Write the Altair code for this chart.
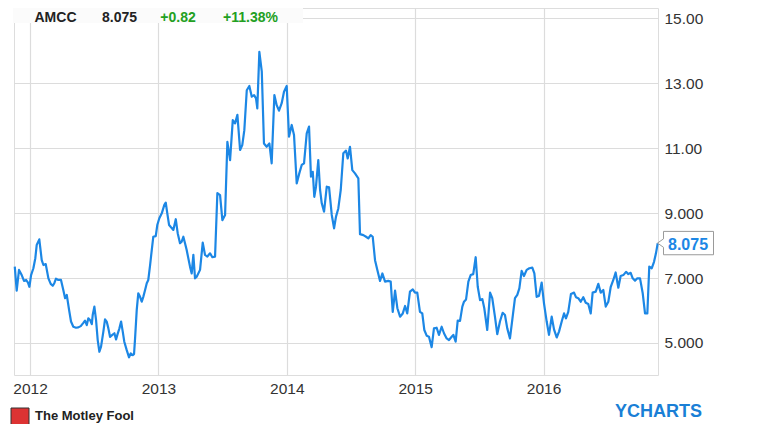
import altair as alt
import pandas as pd

# ---- data (fractional year, closing price) ----
years = [
    2011.881, 2011.896, 2011.914, 2011.935, 2011.953, 2011.969, 2011.984, 2011.995,
    2012.008, 2012.026, 2012.041, 2012.052, 2012.072, 2012.091, 2012.104, 2012.122,
    2012.143, 2012.161, 2012.177, 2012.189, 2012.202, 2012.220, 2012.241, 2012.259,
    2012.273, 2012.286, 2012.304, 2012.319, 2012.337, 2012.358, 2012.376, 2012.395,
    2012.415, 2012.428, 2012.442, 2012.454, 2012.467, 2012.481, 2012.488, 2012.501,
    2012.514, 2012.527, 2012.540, 2012.553, 2012.571, 2012.584, 2012.597, 2012.610,
    2012.623, 2012.641, 2012.657, 2012.670, 2012.680, 2012.696, 2012.709, 2012.722,
    2012.734, 2012.753, 2012.771, 2012.784, 2012.800, 2012.810, 2012.818, 2012.831,
    2012.843, 2012.857, 2012.870, 2012.882, 2012.896, 2012.909, 2012.921, 2012.935,
    2012.948, 2012.960, 2012.979, 2012.991, 2013.007, 2013.026, 2013.046, 2013.057,
    2013.069, 2013.083, 2013.098, 2013.116, 2013.135, 2013.150, 2013.168, 2013.181,
    2013.194, 2013.207, 2013.220,
    2013.246, 2013.259, 2013.272, 2013.285, 2013.298, 2013.324, 2013.345, 2013.363,
    2013.381, 2013.402, 2013.420, 2013.441, 2013.459, 2013.480, 2013.498, 2013.519,
    2013.537, 2013.558, 2013.579, 2013.597, 2013.615, 2013.636, 2013.653, 2013.669,
    2013.688, 2013.708, 2013.727, 2013.745, 2013.760, 2013.770, 2013.786, 2013.805,
    2013.822, 2013.843, 2013.864, 2013.882, 2013.903, 2013.921, 2013.939, 2013.960,
    2013.978, 2013.999, 2014.017, 2014.038, 2014.056, 2014.077, 2014.097, 2014.116,
    2014.134, 2014.155, 2014.173, 2014.188, 2014.202, 2014.214, 2014.227, 2014.245,
    2014.259, 2014.272, 2014.290, 2014.311, 2014.329, 2014.350, 2014.368, 2014.383,
    2014.401, 2014.420, 2014.440, 2014.461, 2014.474, 2014.492, 2014.510, 2014.531,
    2014.557, 2014.570, 2014.596, 2014.617, 2014.635, 2014.653,
    2014.669, 2014.687, 2014.705, 2014.726, 2014.744, 2014.765, 2014.790, 2014.809,
    2014.825, 2014.843, 2014.861, 2014.882, 2014.903, 2014.921, 2014.938, 2014.959,
    2014.981, 2014.998, 2015.016, 2015.037, 2015.055, 2015.071, 2015.090, 2015.107,
    2015.128, 2015.146, 2015.167, 2015.185, 2015.206, 2015.224, 2015.245, 2015.263,
    2015.284, 2015.297, 2015.315, 2015.331, 2015.349, 2015.367, 2015.380, 2015.396,
    2015.414, 2015.432, 2015.452, 2015.471, 2015.487, 2015.505, 2015.523, 2015.538,
    2015.561, 2015.583, 2015.600, 2015.621, 2015.639, 2015.660, 2015.681, 2015.699,
    2015.717, 2015.738, 2015.756, 2015.777, 2015.795, 2015.811, 2015.829, 2015.847,
    2015.868, 2015.889, 2015.912, 2015.928, 2015.946, 2015.964, 2015.985, 2016.003,
    2016.024, 2016.042, 2016.063, 2016.081, 2016.102, 2016.120, 2016.141, 2016.159,
    2016.174, 2016.192, 2016.213, 2016.237, 2016.252, 2016.270, 2016.289, 2016.309,
    2016.328, 2016.348, 2016.367, 2016.382, 2016.406, 2016.426, 2016.445, 2016.465,
    2016.484, 2016.504, 2016.523, 2016.543, 2016.561, 2016.582,
    2016.600, 2016.621, 2016.642, 2016.660, 2016.678, 2016.694, 2016.712, 2016.730,
    2016.751, 2016.772, 2016.790, 2016.808, 2016.823, 2016.842, 2016.860, 2016.875,
    2016.889,
]

prices = [
    7.35, 6.61, 7.25, 7.09, 6.91, 6.94, 6.86, 6.73,
    7.09, 7.30, 7.61, 8.02, 8.19, 7.55, 7.40, 7.43,
    6.99, 6.82, 6.76, 6.84, 6.98, 6.94, 6.94, 6.63,
    6.38, 6.48, 6.02, 5.66, 5.50, 5.47, 5.48, 5.52,
    5.62, 5.69, 5.55, 5.76, 5.71, 5.58, 5.86, 6.12,
    5.71, 5.09, 4.73, 4.89, 5.35, 5.73, 5.66, 5.45,
    5.19, 5.25, 5.30, 5.11, 5.25, 5.45, 5.66, 5.35,
    5.04, 4.78, 4.56, 4.68, 4.63, 4.66, 5.14, 6.02,
    6.53, 6.42, 6.27, 6.42, 6.63, 6.84, 6.94, 7.40,
    7.86, 8.27, 8.29, 8.63, 8.84, 8.99, 9.25, 9.32,
    8.99, 8.63, 8.56, 8.48, 8.81, 8.38, 8.07, 8.12,
    8.27, 8.07, 7.86,
    7.35, 7.14, 7.71, 6.99, 7.04, 7.25, 8.09, 7.71,
    7.66, 7.76, 7.64, 7.66, 9.61, 9.55, 8.78, 8.94,
    11.19, 10.63, 11.86, 11.76, 12.02, 10.94, 11.09, 11.55,
    12.78, 12.91, 12.58, 12.63, 12.53, 12.22, 13.96, 13.35,
    11.14, 11.04, 11.14, 10.53, 12.63, 12.32, 12.15, 12.38,
    12.73, 12.91, 11.35, 11.71, 11.40, 9.91, 10.22, 10.48,
    10.53, 11.45, 11.66, 10.12, 10.27, 9.50, 9.81, 10.63,
    9.71, 9.30, 9.04, 9.81, 9.79, 8.94, 8.53, 8.89,
    9.14, 9.71, 10.84, 10.92, 10.68, 11.04, 10.32, 10.22,
    10.07, 8.35, 8.32, 8.27, 8.22, 8.32,
    8.27, 7.55, 7.25, 6.91, 7.14, 6.89, 6.91, 6.89,
    5.96, 6.61, 6.07, 5.81, 5.91, 6.14, 5.91, 6.58,
    6.65, 6.55, 6.55, 5.96, 5.91, 5.40, 5.22, 5.19,
    4.87, 5.45, 5.47, 5.25, 5.50, 5.30, 5.14, 5.09,
    5.19, 5.25, 5.04, 5.69, 5.68, 6.12, 6.27, 6.34,
    6.89, 7.09, 7.12, 7.64, 6.73, 6.32, 6.35, 6.07,
    5.40, 6.55, 6.38, 5.81, 5.27, 5.66, 5.93, 5.86,
    5.45, 5.14, 5.71, 6.38, 6.48, 6.68, 7.22, 7.06,
    7.25, 7.30, 7.32, 7.14, 6.42, 6.45, 6.86, 6.22,
    5.66, 5.25, 5.81, 5.42, 5.17, 5.35, 5.66, 5.91,
    5.76, 5.96, 6.51, 6.55, 6.41, 6.38, 6.27, 6.41,
    6.24, 6.20, 5.91, 6.55, 6.58, 6.82, 6.55, 6.63,
    6.12, 6.27, 6.73, 6.94, 7.17, 6.70,
    7.06, 7.09, 7.19, 7.12, 7.16, 6.99, 6.92, 6.99,
    6.99, 6.53, 5.91, 5.91, 7.35, 7.30, 7.50, 7.76,
    8.075,
]

year_ticks = [2012, 2013, 2014, 2015, 2016]
price_ticks = [5, 7, 9, 11, 13, 15]
ticker = "AMCC"
last_text = "8.075"
change_abs = "+0.82"
change_pct = "+11.38%"

assert len(years) == len(prices)
df = pd.DataFrame({"year": years, "price": prices})
one = pd.DataFrame({"k": [0]})

FONT = "Liberation Sans"
BLUE = "#1c87e5"
GREEN = "#22a022"
W, H = 644, 367

x_scale = alt.Scale(domain=[2011.875, 2016.891], nice=False, zero=False)
y_scale = alt.Scale(domain=[4.015, 15.31], nice=False, zero=False)

line = alt.Chart(df).mark_line(color=BLUE, strokeWidth=2.2, strokeJoin="round").encode(
    x=alt.X("year:Q", scale=x_scale,
            axis=alt.Axis(values=year_ticks, format="d", title=None, orient="bottom",
                          grid=True, gridColor="#dcdcdc", gridWidth=1.2,
                          domain=False, ticks=False, labelFont=FONT, labelFontSize=15.5,
                          labelColor="#333333", labelPadding=6, labelFlush=False)),
    y=alt.Y("price:Q", scale=y_scale,
            axis=alt.Axis(values=price_ticks, title=None, orient="right",
                          labelExpr="datum.value >= 10 ? format(datum.value, '.2f') : format(datum.value, '.3f')",
                          grid=True, gridColor="#dcdcdc", gridWidth=1.2,
                          domain=False, ticks=False, labelFont=FONT, labelFontSize=15.5,
                          labelColor="#333333", labelPadding=6, labelBaseline="middle")),
)

# header box and texts
header_box = alt.Chart(one).mark_rect(color="#fbfbfb").encode(
    x=alt.value(-1), x2=alt.value(289), y=alt.value(0), y2=alt.value(15)
)

def htext(txt, xpos, color):
    return alt.Chart(one).mark_text(
        text=txt, font=FONT, fontSize=14, fontWeight="bold", color=color,
        align="center", baseline="alphabetic"
    ).encode(x=alt.value(xpos), y=alt.value(13.5))

header = [htext(ticker, 41.5, "#222222"), htext(last_text, 105.5, "#222222"),
          htext(change_abs, 164, GREEN), htext(change_pct, 236.5, GREEN)]

# last value tag
tag_path = "M-1,0 L-0.786,-0.15 L-0.786,-0.417 L1,-0.417 L1,0.417 L-0.786,0.417 L-0.786,0.15 Z"
tag = alt.Chart(one).mark_point(
    shape=tag_path, size=3136, filled=True, fill="white", stroke="#9a9a9a",
    strokeWidth=1, opacity=1
).encode(x=alt.value(W + 27.5), y=alt.datum(prices[-1]))

tag_text = alt.Chart(one).mark_text(
    text=last_text, font=FONT, fontSize=16, fontWeight="bold", color=BLUE,
    align="left", baseline="middle", dy=1.5
).encode(x=alt.value(W + 10), y=alt.datum(prices[-1]))

# footer
logo = alt.Chart(one).mark_rect(fill="#d33", stroke="#333", strokeWidth=1).encode(
    x=alt.value(-3), x2=alt.value(15), y=alt.value(400), y2=alt.value(417)
)
fool = alt.Chart(one).mark_text(
    text="The Motley Fool", font=FONT, fontSize=13, fontWeight="bold", color="#222222",
    align="left", baseline="alphabetic"
).encode(x=alt.value(21), y=alt.value(412))
ych = alt.Chart(one).mark_text(
    text="YCHARTS", font=FONT, fontSize=18, fontWeight="bold", color="#1a7fd6",
    align="left", baseline="alphabetic"
).encode(x=alt.value(601), y=alt.value(409))

chart = alt.layer(line, header_box, *header, tag, tag_text, logo, fool, ych).properties(
    width=W, height=H,
    autosize=alt.AutoSizeParams(type="none"),
    padding={"left": 6, "top": 0, "right": 98, "bottom": 49},
).configure_view(
    fill="#f5f5f5", stroke="#9a9a9a", strokeWidth=1.5
).configure(background="white")

chart.save("out.html", embed_options={"renderer": "svg", "actions": False})
